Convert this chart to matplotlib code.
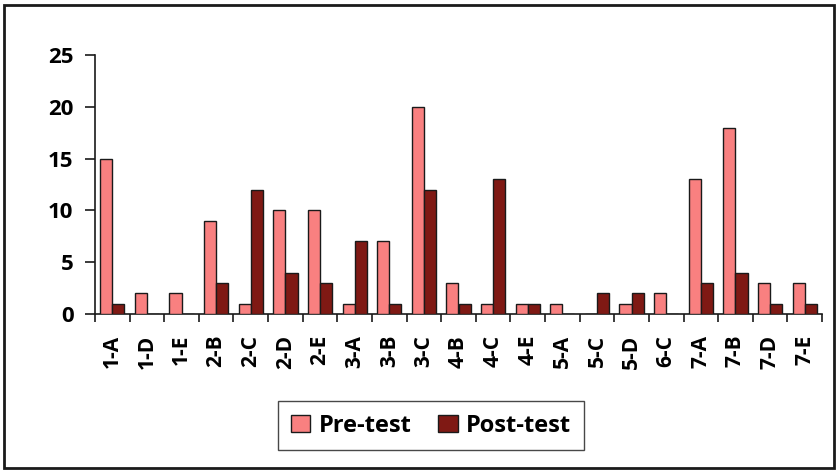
import matplotlib
matplotlib.use("Agg")
import matplotlib.pyplot as plt
from matplotlib.patches import Rectangle
import numpy as np

categories = ["1-A", "1-D", "1-E", "2-B", "2-C", "2-D", "2-E", "3-A", "3-B", "3-C",
              "4-B", "4-C", "4-E", "5-A", "5-C", "5-D", "6-C", "7-A", "7-B", "7-D", "7-E"]
pre_test = [15, 2, 2, 9, 1, 10, 10, 1, 7, 20, 3, 1, 1, 1, 0, 1, 2, 13, 18, 3, 3]
post_test = [1, 0, 0, 3, 12, 4, 3, 7, 1, 12, 1, 13, 1, 0, 2, 2, 0, 3, 4, 1, 1]
y_ticks = [0, 5, 10, 15, 20, 25]

plt.rcParams["font.family"] = ["Open Sans", "DejaVu Sans"]

fig = plt.figure(figsize=(8.39, 4.73), dpi=100)
W, H = 839, 473
ax = fig.add_axes([95 / W, 1 - 314 / H, (822 - 95) / W, (314 - 55) / H])

x = np.arange(len(categories))
bw = 0.35
ax.bar(x - bw / 2, pre_test, bw, color="#F98080", edgecolor="#1a1a1a", linewidth=1.0,
       label="Pre-test", zorder=3)
ax.bar(x + bw / 2, post_test, bw, color="#7F1914", edgecolor="#1a1a1a", linewidth=1.0,
       label="Post-test", zorder=3)

ax.set_xlim(-0.5, len(categories) - 0.5)
ax.set_ylim(0, 25)
ax.set_yticks(y_ticks)
ax.set_yticklabels([str(v) for v in y_ticks], fontsize=16, fontweight="bold")

ax.set_xticks(np.arange(len(categories) + 1) - 0.5)
ax.set_xticklabels([])
ax.set_xticks(x, minor=True)
ax.set_xticklabels(categories, minor=True, rotation=90, fontsize=15, fontweight="bold")
ax.tick_params(axis="x", which="minor", length=0, pad=15)
ax.tick_params(axis="x", which="major", length=6, width=1.2, direction="out", color="#1a1a1a")
ax.tick_params(axis="y", length=7.5, width=1.2, direction="out", color="#1a1a1a", pad=8)

for s in ["top", "right"]:
    ax.spines[s].set_visible(False)
for s in ["left", "bottom"]:
    ax.spines[s].set_linewidth(1.2)
    ax.spines[s].set_color("#1a1a1a")

leg = fig.legend(loc="center", bbox_to_anchor=(431 / W, 1 - 425.5 / H), ncol=2,
                 frameon=True, fancybox=False, edgecolor="#1a1a1a", handlelength=0.82,
                 handleheight=0.76, handletextpad=0.35, columnspacing=1.15,
                 borderpad=0.55, borderaxespad=0, prop={"weight": "bold", "size": 17})
leg.get_frame().set_linewidth(1.0)

fig.patches.append(Rectangle((4 / W, 5 / H), 830 / W, 463 / H, transform=fig.transFigure,
                             fill=False, edgecolor="#1a1a1a", linewidth=2))

fig.savefig("out.png", dpi=100)
